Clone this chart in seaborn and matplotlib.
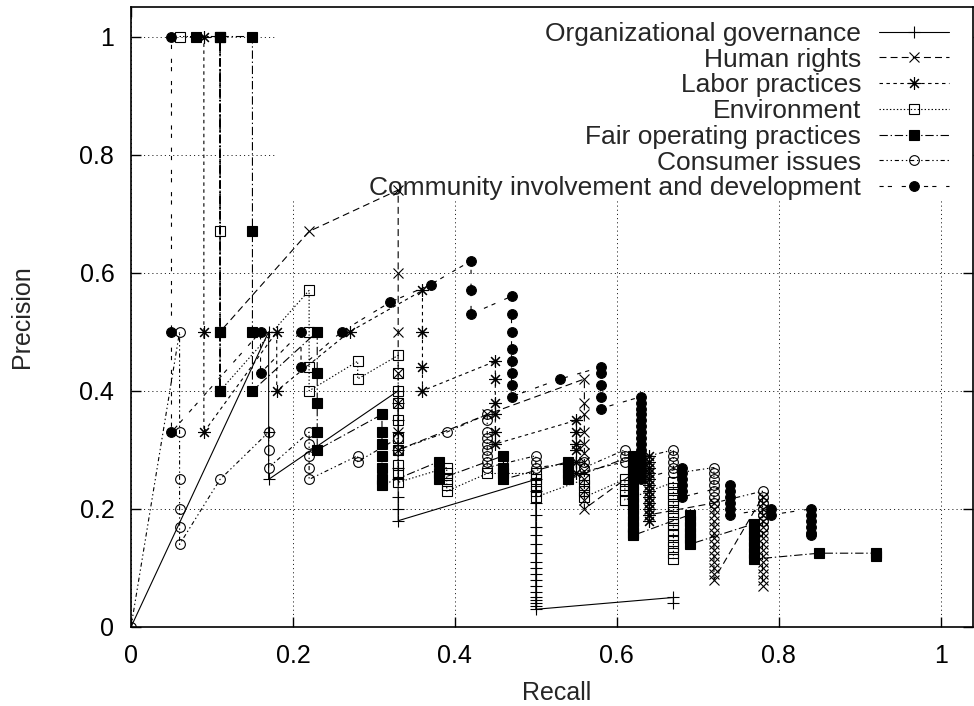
import matplotlib
matplotlib.use("Agg")
import matplotlib.pyplot as plt
import seaborn as sns
import pandas as pd
from matplotlib.patches import Rectangle

# ---------------- data ----------------
series_names = [
    "Organizational governance",
    "Human rights",
    "Labor practices",
    "Environment",
    "Fair operating practices",
    "Consumer issues",
    "Community involvement and development",
]

og_recall = [0.0, 0.17, 0.17, 0.17,
             0.33, 0.33, 0.33, 0.33, 0.33, 0.33, 0.33, 0.33, 0.33, 0.33,
             0.5, 0.5, 0.5, 0.5, 0.5, 0.5, 0.5, 0.5, 0.5, 0.5,
             0.5, 0.5, 0.5, 0.5, 0.5, 0.5, 0.5, 0.5, 0.5,
             0.67, 0.67]
og_precision = [0.0, 0.50, 0.33, 0.25,
                0.40, 0.38, 0.35, 0.33, 0.30, 0.27, 0.25, 0.22, 0.20, 0.18,
                0.25, 0.23, 0.21, 0.19, 0.17, 0.155, 0.14, 0.125, 0.11, 0.10,
                0.09, 0.08, 0.07, 0.06, 0.05, 0.045, 0.04, 0.035, 0.03,
                0.05, 0.04]

hr_recall = [0.11, 0.11, 0.22,
             0.33, 0.33, 0.33, 0.33, 0.33, 0.33, 0.33,
             0.44,
             0.56, 0.56, 0.56, 0.56, 0.56, 0.56, 0.56, 0.56, 0.56, 0.56, 0.56, 0.56,
             0.64, 0.64, 0.64, 0.64, 0.64, 0.64, 0.64, 0.64, 0.64, 0.64,
             0.72, 0.72, 0.72, 0.72, 0.72, 0.72, 0.72, 0.72, 0.72, 0.72, 0.72, 0.72, 0.72, 0.72,
             0.78, 0.78, 0.78, 0.78, 0.78, 0.78, 0.78, 0.78, 0.78, 0.78, 0.78, 0.78, 0.78, 0.78, 0.78, 0.78]
hr_precision = [1.0, 0.50, 0.67,
                0.74, 0.60, 0.50, 0.43, 0.38, 0.33, 0.30,
                0.36,
                0.42, 0.38, 0.36, 0.33, 0.31, 0.295, 0.28, 0.265, 0.25, 0.23, 0.215, 0.20,
                0.28, 0.27, 0.26, 0.25, 0.24, 0.23, 0.22, 0.21, 0.20, 0.19,
                0.21, 0.20, 0.19, 0.18, 0.17, 0.16, 0.15, 0.14, 0.13, 0.12, 0.11, 0.10, 0.09, 0.08,
                0.22, 0.21, 0.20, 0.19, 0.18, 0.17, 0.16, 0.15, 0.14, 0.13, 0.12, 0.11, 0.10, 0.09, 0.08, 0.07]

lp_recall = [0.09, 0.09, 0.09, 0.18, 0.18, 0.27,
             0.36, 0.36, 0.36, 0.36,
             0.45, 0.45, 0.45, 0.45, 0.45, 0.45,
             0.55, 0.55, 0.55, 0.55, 0.55, 0.55,
             0.64, 0.64, 0.64, 0.64, 0.64, 0.64, 0.64, 0.64, 0.64, 0.64, 0.64, 0.64]
lp_precision = [1.0, 0.50, 0.33, 0.50, 0.40, 0.50,
                0.57, 0.50, 0.44, 0.40,
                0.45, 0.42, 0.38, 0.36, 0.33, 0.31,
                0.35, 0.33, 0.31, 0.30, 0.28, 0.26,
                0.29, 0.28, 0.27, 0.26, 0.25, 0.24, 0.23, 0.22, 0.21, 0.20, 0.19, 0.18]

en_recall = [0.06, 0.11, 0.11, 0.11, 0.11, 0.22, 0.22, 0.22, 0.22, 0.28, 0.28,
             0.33, 0.33, 0.33, 0.33, 0.33, 0.33, 0.33, 0.33, 0.33, 0.33,
             0.39, 0.39, 0.39, 0.39, 0.39,
             0.44,
             0.5, 0.5, 0.5, 0.5, 0.5,
             0.56, 0.56, 0.56, 0.56,
             0.61, 0.61, 0.61, 0.61,
             0.67, 0.67, 0.67, 0.67, 0.67, 0.67, 0.67, 0.67, 0.67, 0.67, 0.67, 0.67, 0.67, 0.67]
en_precision = [1.0, 1.0, 0.67, 0.50, 0.40, 0.57, 0.50, 0.44, 0.40, 0.45, 0.42,
                0.46, 0.43, 0.40, 0.38, 0.35, 0.32, 0.30, 0.275, 0.26, 0.245,
                0.27, 0.26, 0.25, 0.24, 0.23,
                0.26,
                0.26, 0.25, 0.24, 0.23, 0.22,
                0.25, 0.24, 0.23, 0.22,
                0.25, 0.24, 0.23, 0.215,
                0.245, 0.235, 0.225, 0.215, 0.205, 0.195, 0.185, 0.175, 0.165, 0.155, 0.145, 0.135, 0.125, 0.115]

fo_recall = [0.08, 0.11, 0.11, 0.11, 0.11, 0.15, 0.15, 0.15, 0.15,
             0.23, 0.23, 0.23, 0.23, 0.23,
             0.31, 0.31, 0.31, 0.31, 0.31, 0.31, 0.31,
             0.38, 0.38, 0.38,
             0.46, 0.46, 0.46, 0.46,
             0.54, 0.54, 0.54, 0.54,
             0.62, 0.62, 0.62, 0.62, 0.62, 0.62, 0.62, 0.62, 0.62, 0.62, 0.62, 0.62, 0.62, 0.62, 0.62,
             0.69, 0.69, 0.69, 0.69, 0.69, 0.69,
             0.77, 0.77, 0.77, 0.77, 0.77, 0.77, 0.77,
             0.85, 0.92, 0.92]
fo_precision = [1.0, 1.0, 0.50, 0.40, 1.0, 1.0, 0.67, 0.50, 0.40,
                0.50, 0.43, 0.38, 0.33, 0.30,
                0.36, 0.33, 0.31, 0.29, 0.27, 0.25, 0.24,
                0.28, 0.26, 0.25,
                0.29, 0.27, 0.26, 0.25,
                0.28, 0.27, 0.26, 0.25,
                0.29, 0.28, 0.27, 0.26, 0.25, 0.24, 0.23, 0.22, 0.21, 0.20, 0.19, 0.18, 0.17, 0.16, 0.155,
                0.19, 0.18, 0.17, 0.16, 0.15, 0.14,
                0.175, 0.165, 0.155, 0.145, 0.135, 0.125, 0.115,
                0.125, 0.125, 0.12]

ci_recall = [0.0, 0.06, 0.06, 0.06, 0.06, 0.06, 0.06, 0.11,
             0.17, 0.17, 0.17, 0.22, 0.22, 0.22, 0.22, 0.22,
             0.28, 0.28, 0.33, 0.33, 0.39,
             0.44, 0.44, 0.44, 0.44, 0.44, 0.44, 0.44, 0.44, 0.44,
             0.5, 0.5, 0.5, 0.56, 0.56,
             0.61, 0.61, 0.61,
             0.67, 0.67, 0.67, 0.67, 0.67,
             0.72, 0.72, 0.72, 0.72, 0.72, 0.72, 0.72,
             0.78, 0.78, 0.78, 0.78, 0.78, 0.78, 0.78]
ci_precision = [0.0, 0.50, 0.33, 0.25, 0.20, 0.17, 0.14, 0.25,
                0.33, 0.30, 0.27, 0.33, 0.31, 0.29, 0.27, 0.25,
                0.29, 0.28, 0.32, 0.30, 0.33,
                0.36, 0.35, 0.33, 0.32, 0.31, 0.30, 0.29, 0.28, 0.27,
                0.29, 0.28, 0.27, 0.28, 0.27,
                0.30, 0.29, 0.28,
                0.30, 0.29, 0.28, 0.27, 0.26,
                0.27, 0.26, 0.25, 0.24, 0.23, 0.22, 0.21,
                0.23, 0.22, 0.21, 0.20, 0.19, 0.18, 0.17]

cd_recall = [0.05, 0.05, 0.05, 0.16, 0.16, 0.21, 0.21, 0.26, 0.32, 0.37,
             0.42, 0.42, 0.42,
             0.47, 0.47, 0.47, 0.47, 0.47, 0.47, 0.47, 0.47,
             0.53,
             0.58, 0.58, 0.58, 0.58, 0.58,
             0.63, 0.63, 0.63, 0.63, 0.63, 0.63, 0.63, 0.63, 0.63, 0.63, 0.63, 0.63, 0.63, 0.63, 0.63,
             0.68, 0.68, 0.68, 0.68, 0.68, 0.68,
             0.74, 0.74, 0.74, 0.74, 0.74, 0.74,
             0.79, 0.79,
             0.84, 0.84, 0.84, 0.84, 0.84, 0.84]
cd_precision = [1.0, 0.50, 0.33, 0.50, 0.43, 0.50, 0.44, 0.50, 0.55, 0.58,
                0.62, 0.57, 0.53,
                0.56, 0.53, 0.50, 0.47, 0.45, 0.43, 0.41, 0.39,
                0.42,
                0.44, 0.43, 0.41, 0.39, 0.37,
                0.39, 0.38, 0.37, 0.36, 0.35, 0.34, 0.33, 0.32, 0.31, 0.30, 0.29, 0.28, 0.27, 0.26, 0.25,
                0.27, 0.26, 0.25, 0.24, 0.23, 0.22,
                0.24, 0.23, 0.22, 0.21, 0.20, 0.19,
                0.20, 0.19,
                0.20, 0.19, 0.18, 0.17, 0.16, 0.155]

tick_values = [0, 0.2, 0.4, 0.6, 0.8, 1.0]
tick_labels = ["0", "0.2", "0.4", "0.6", "0.8", "1"]

# ---------------- style ----------------
sns.set_style("ticks")
plt.rcParams["font.family"] = ["Liberation Sans", "DejaVu Sans"]
plt.rcParams["font.size"] = 18
plt.rcParams["lines.scale_dashes"] = False

W, H = 974, 706
fig = plt.figure(figsize=(W / 100, H / 100), dpi=100)
ax_l, ax_r, ax_t, ax_b = 131, 973, 7, 627
ax = fig.add_axes([ax_l / W, 1 - ax_b / H, (ax_r - ax_l) / W, (ax_b - ax_t) / H])

styles = [
    dict(linestyle="-", marker="+", markersize=9, markerfacecolor="none"),
    dict(linestyle=(0, (5, 3)), marker="x", markersize=7, markerfacecolor="none"),
    dict(linestyle=(0, (2.5, 2.5)), marker=(8, 2, 0), markersize=9, markerfacecolor="none"),
    dict(linestyle=(0, (1, 1.5)), marker="s", markersize=7, markerfacecolor="none"),
    dict(linestyle=(0, (6, 2, 1, 2)), marker="s", markersize=7, markerfacecolor="black"),
    dict(linestyle=(0, (3, 2, 1, 2, 1, 2)), marker="o", markersize=7, markerfacecolor="none"),
    dict(linestyle=(0, (3, 3, 3, 7)), marker="o", markersize=7, markerfacecolor="black"),
]
recalls = [og_recall, hr_recall, lp_recall, en_recall, fo_recall, ci_recall, cd_recall]
precisions = [og_precision, hr_precision, lp_precision, en_precision, fo_precision, ci_precision, cd_precision]

for name, r, p, st in zip(series_names, recalls, precisions, styles):
    df = pd.DataFrame({"Recall": r, "Precision": p})
    sns.lineplot(data=df, x="Recall", y="Precision", sort=False, estimator=None,
                 errorbar=None, ax=ax, color="black", linewidth=0.8,
                 markeredgecolor="black", markeredgewidth=0.8,
                 label=name, zorder=3, **st)

ax.set_xlim(0, 1.04)
ax.set_ylim(0, 1.05)
ax.set_xticks(tick_values)
ax.set_xticklabels(tick_labels)
ax.set_yticks(tick_values)
ax.set_yticklabels(tick_labels)
ax.tick_params(direction="in", length=7, width=1.0, top=True, right=True,
               labelsize=18, colors="black")
ax.tick_params(axis="x", pad=12)
ax.tick_params(axis="y", pad=12)
for s in ax.spines.values():
    s.set_linewidth(1.2)
    s.set_color("black")

ax.set_axisbelow(True)
ax.grid(True, color="black", linewidth=0.6, linestyle=(0, (0.8, 2.2)))

# opaque key area (hides grid underneath the key)
x0 = 0.18 / 1.04
y0 = 0.724 / 1.05
ax.add_patch(Rectangle((x0, y0), 1 - x0, 1 - y0, transform=ax.transAxes,
                       facecolor="white", edgecolor="none", zorder=1))

ax.set_xlabel("Recall", fontsize=18)
ax.set_ylabel("Precision", fontsize=18)
ax.xaxis.set_label_coords(0.506, (ax_b - 693) / (ax_b - ax_t))
ax.xaxis.label.set_va("center")
ax.yaxis.set_label_coords((22 - ax_l) / (ax_r - ax_l), 0.5)
ax.yaxis.label.set_va("center")
ax.yaxis.label.set_ha("center")

handles, labels = ax.get_legend_handles_labels()
leg = ax.legend(handles, labels, loc="upper right",
                bbox_to_anchor=((949 - ax_l) / (ax_r - ax_l), (ax_b - 22) / (ax_b - ax_t)),
                frameon=False, markerfirst=False, handlelength=2.65,
                handletextpad=0.68, labelspacing=0.065, borderpad=0,
                borderaxespad=0, fontsize=19, numpoints=1)
leg.set_zorder(2)

fig.savefig("out.png", dpi=100)
